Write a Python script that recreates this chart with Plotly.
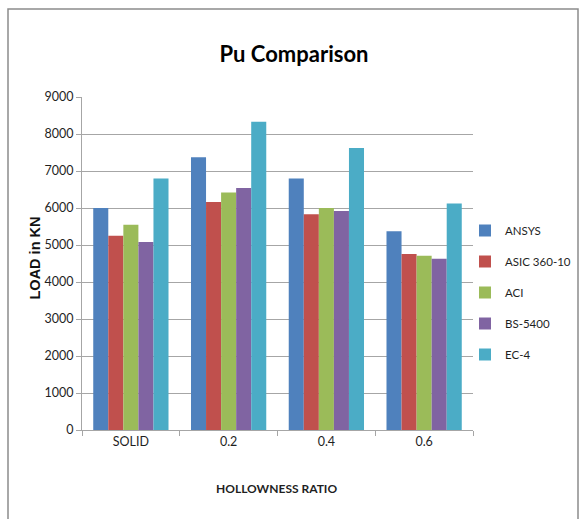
import plotly.graph_objects as go

categories = ["SOLID", "0.2", "0.4", "0.6"]
ansys = [6000, 7370, 6800, 5370]
asic_360_10 = [5250, 6160, 5830, 4760]
aci = [5550, 6420, 6000, 4710]
bs_5400 = [5080, 6540, 5920, 4630]
ec_4 = [6800, 8330, 7620, 6120]

series = [
    ("ANSYS", ansys, "#4F81BD"),
    ("ASIC 360-10", asic_360_10, "#C0504D"),
    ("ACI", aci, "#9BBB59"),
    ("BS-5400", bs_5400, "#8064A2"),
    ("EC-4", ec_4, "#4BACC6"),
]

FONT = "Lato, Liberation Sans, Arial, sans-serif"
TXT = "#1f1f1f"

fig = go.Figure()
for i, (name, vals, color) in enumerate(series):
    fig.add_trace(go.Bar(
        x=categories, y=vals, name=name,
        marker=dict(color=color, line=dict(width=0)),
        legendgroup=f"g{i}",
    ))

fig.update_layout(
    width=582, height=519,
    margin=dict(l=82, r=109, t=97, b=89, autoexpand=False),
    paper_bgcolor="white", plot_bgcolor="white",
    barmode="group", bargap=0.23, bargroupgap=0,
    font=dict(family=FONT, size=12.5, color=TXT),
    title=dict(text="<b>Pu Comparison</b>", x=294 / 582, xref="container", xanchor="center",
               y=1 - 54 / 519, yref="container", yanchor="middle",
               font=dict(family=FONT, size=22, color="#000000")),
    legend=dict(x=465 / 582, xref="container", xanchor="left",
                y=1 - 216 / 519, yref="container", yanchor="top",
                font=dict(family=FONT, size=11.5, color=TXT),
                tracegroupgap=12, bgcolor="rgba(0,0,0,0)"),
    showlegend=True,
)

fig.update_yaxes(range=[0, 9000], dtick=1000, showgrid=True, gridcolor="#a6a6a6", gridwidth=1,
                 showline=True, linecolor="#a6a6a6", linewidth=1,
                 ticks="outside", ticklen=5, tickcolor="#a6a6a6",
                 tickfont=dict(family=FONT, size=12.5, color=TXT), zeroline=False)
fig.update_xaxes(showline=True, linecolor="#a6a6a6", linewidth=1,
                 ticks="outside", ticklen=5, tickcolor="#a6a6a6", tickson="boundaries",
                 tickfont=dict(family=FONT, size=12.5, color=TXT))

# axis titles
fig.add_annotation(text="<b>HOLLOWNESS RATIO</b>", xref="paper", yref="paper",
                   x=0.497, y=-(488 - 430) / 333, xanchor="center", yanchor="middle",
                   showarrow=False, font=dict(family=FONT, size=12, color=TXT))
fig.add_annotation(text="<b>LOAD in KN</b>", xref="paper", yref="paper",
                   x=-(82 - 34.5) / 391, y=(430 - 258) / 333, xanchor="center", yanchor="middle",
                   textangle=-90, showarrow=False,
                   font=dict(family="Liberation Sans, Arial, sans-serif", size=14.5, color="#111111"))

# outer chart frame
fig.add_shape(type="rect", xref="paper", yref="paper",
              x0=(8 - 82) / 391, x1=(578 - 82) / 391,
              y0=(430 - 540) / 333, y1=1 + (97 - 9) / 333,
              line=dict(color="#8c8c8c", width=1.5), fillcolor="rgba(0,0,0,0)", layer="below")

fig.write_html("out.html")
